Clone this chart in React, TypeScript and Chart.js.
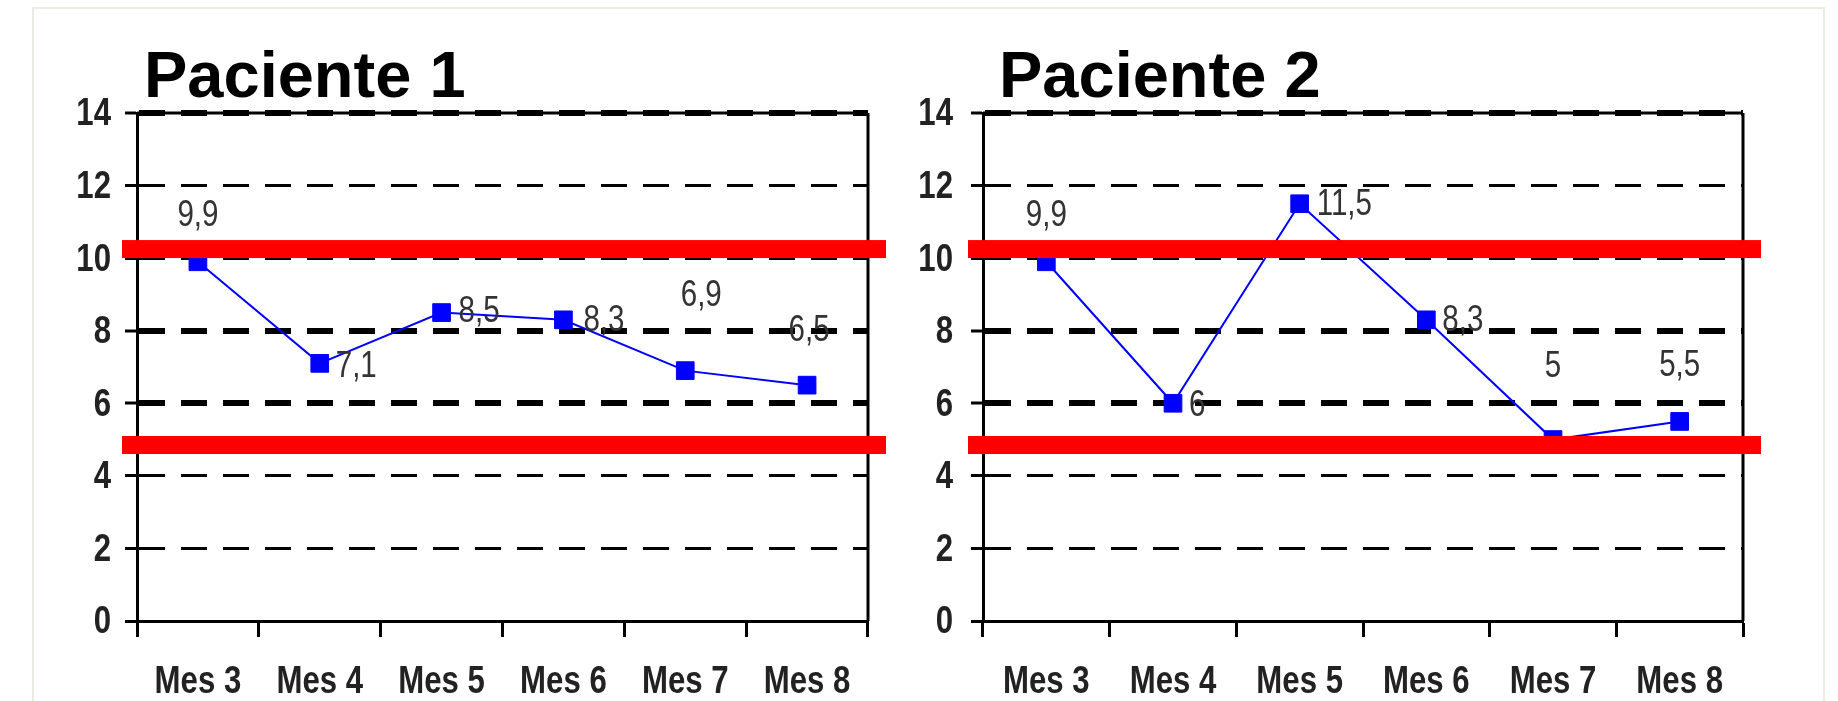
import React, { useEffect, useRef } from 'react';
import { Chart, registerables } from 'chart.js';

Chart.register(...registerables);

// ---------- data ----------
const MONTHS = ['Mes 3', 'Mes 4', 'Mes 5', 'Mes 6', 'Mes 7', 'Mes 8'];
const PACIENTE_1 = [9.9, 7.1, 8.5, 8.3, 6.9, 6.5];
const PACIENTE_2 = [9.9, 6, 11.5, 8.3, 5, 5.5];
const TITLES = ['Paciente 1', 'Paciente 2'];
const LIMITS = [10.25, 4.85];
const Y_MIN = 0;
const Y_MAX = 14;
const Y_STEP = 2;

// ---------- styling / placement ----------
type Placement = { align: CanvasTextAlign; dx: number; dy: number };
const LABELS_1: Placement[] = [
  { align: 'center', dx: 0, dy: -46 },
  { align: 'left', dx: 16, dy: 4 },
  { align: 'left', dx: 17, dy: 0 },
  { align: 'left', dx: 20, dy: 1 },
  { align: 'center', dx: 16, dy: -75 },
  { align: 'center', dx: 2, dy: -54 },
];
const LABELS_2: Placement[] = [
  { align: 'center', dx: 0, dy: -46 },
  { align: 'left', dx: 16, dy: 3 },
  { align: 'left', dx: 17, dy: 1 },
  { align: 'left', dx: 16, dy: 1 },
  { align: 'center', dx: 0, dy: -72 },
  { align: 'center', dx: 0, dy: -55 },
];

const WIDE = "'Liberation Sans', Arial, sans-serif";
const SQUEEZE = 0.82; // narrow (condensed) face look
const BLUE = '#0000FF';
const RED = '#FF0000';
const THICK_GRID = [14, 8, 6];

const fmt = (v: number) => String(v).replace('.', ',');

type PanelProps = {
  title: string;
  values: number[];
  placements: Placement[];
  left: number;
  width: number;
  axisWidth: number;
  padRight: number;
  titleOffset: number;
  yLabelGap: number;
};

function drawSqueezed(ctx: CanvasRenderingContext2D, text: string, x: number, y: number) {
  const w = ctx.measureText(text).width;
  ctx.fillText(text, x, y, w * SQUEEZE);
}

function Panel({ title, values, placements, left, width, axisWidth, padRight, titleOffset, yLabelGap }: PanelProps) {
  const ref = useRef<HTMLCanvasElement>(null);

  useEffect(() => {
    const canvas = ref.current;
    if (!canvas) return;

    const framePlugin = {
      id: 'frame',
      beforeDatasetsDraw(chart: any) {
        const { ctx, chartArea } = chart;
        ctx.save();
        ctx.strokeStyle = '#000';
        ctx.lineWidth = 3;
        ctx.beginPath();
        ctx.moveTo(chartArea.left, chartArea.top);
        ctx.lineTo(chartArea.right, chartArea.top);
        ctx.moveTo(chartArea.right, chartArea.top);
        ctx.lineTo(chartArea.right, chartArea.bottom);
        ctx.stroke();
        ctx.restore();
      },
    };

    const limitsPlugin = {
      id: 'limits',
      afterDatasetsDraw(chart: any) {
        const { ctx, chartArea, scales } = chart;
        ctx.save();
        ctx.fillStyle = RED;
        LIMITS.forEach((v) => {
          const y = scales.y.getPixelForValue(v);
          ctx.fillRect(chartArea.left - 15, y - 9, chartArea.right - chartArea.left + 33, 18);
        });
        ctx.restore();
      },
    };

    const tickLabelsPlugin = {
      id: 'tickLabels',
      afterDraw(chart: any) {
        const { ctx, chartArea, scales } = chart;
        const xs = scales.x;
        const ys = scales.y;
        ctx.save();
        ctx.font = `bold 38px ${WIDE}`;
        ctx.fillStyle = '#222';
        ctx.textBaseline = 'middle';
        ctx.textAlign = 'right';
        ys.ticks.forEach((t: any, i: number) => {
          const label = t.label != null ? String(t.label) : String(t.value);
          drawSqueezed(ctx, label, chartArea.left - yLabelGap, ys.getPixelForTick(i) + 2);
        });
        ctx.textAlign = 'center';
        xs.ticks.forEach((t: any, i: number) => {
          const label = String(xs.getLabelForValue(t.value));
          drawSqueezed(ctx, label, xs.getPixelForTick(i), chartArea.bottom + 62);
        });
        ctx.restore();
      },
    };

    const labelsPlugin = {
      id: 'pointLabels',
      afterDraw(chart: any) {
        const { ctx } = chart;
        const meta = chart.getDatasetMeta(0);
        ctx.save();
        ctx.font = `36px ${WIDE}`;
        ctx.fillStyle = '#333';
        ctx.textBaseline = 'middle';
        meta.data.forEach((pt: any, i: number) => {
          const p = placements[i];
          ctx.textAlign = p.align;
          drawSqueezed(ctx, fmt(values[i]), pt.x + p.dx, pt.y + p.dy);
        });
        ctx.restore();
      },
    };

    const titlePlugin = {
      id: 'panelTitle',
      afterDraw(chart: any) {
        const { ctx, chartArea } = chart;
        ctx.save();
        ctx.font = `bold 65px ${WIDE}`;
        ctx.fillStyle = '#000';
        ctx.textAlign = 'left';
        ctx.textBaseline = 'alphabetic';
        ctx.fillText(title, chartArea.left + titleOffset, chartArea.top - 16);
        ctx.restore();
      },
    };

    const chart = new Chart(canvas, {
      type: 'line',
      data: {
        labels: MONTHS,
        datasets: [
          {
            data: values,
            borderColor: BLUE,
            backgroundColor: BLUE,
            borderWidth: 2,
            pointStyle: 'rect',
            pointRadius: 12.5,
            pointHoverRadius: 12.5,
            pointBackgroundColor: BLUE,
            pointBorderColor: BLUE,
            pointBorderWidth: 1,
            tension: 0,
            fill: false,
          },
        ],
      },
      options: {
        responsive: false,
        animation: false,
        events: [],
        layout: { padding: { left: 0, right: padRight, top: 113, bottom: 0 } },
        plugins: {
          legend: { display: false },
          tooltip: { enabled: false },
          title: { display: false },
        },
        scales: {
          x: {
            type: 'category',
            offset: true,
            grid: {
              offset: true,
              drawOnChartArea: false,
              drawTicks: true,
              tickLength: 16,
              tickWidth: 3,
              tickColor: '#000',
            },
            border: { display: true, color: '#000', width: 3 },
            ticks: { display: false, autoSkip: false, maxRotation: 0 },
            afterFit: (s: any) => {
              s.height = 80;
            },
          },
          y: {
            min: Y_MIN,
            max: Y_MAX,
            ticks: { display: false, stepSize: Y_STEP },
            grid: {
              color: '#000',
              lineWidth: (c: any) => (c.tick && THICK_GRID.includes(c.tick.value) ? 6 : 3),
              drawTicks: true,
              tickLength: 12,
              tickWidth: 3,
              tickColor: '#000',
            },
            border: { display: true, color: '#000', width: 3, dash: [26, 16] },
            afterFit: (s: any) => {
              s.width = axisWidth;
            },
          },
        },
      } as any,
      plugins: [framePlugin, limitsPlugin, tickLabelsPlugin, labelsPlugin, titlePlugin],
    });

    return () => chart.destroy();
  }, []);

  return (
    <canvas
      ref={ref}
      width={width}
      height={701}
      style={{ position: 'absolute', left, top: 0, width, height: 701, display: 'block' }}
    />
  );
}

export default function App() {
  return (
    <div
      style={{
        position: 'absolute',
        left: 0,
        top: 0,
        width: 1838,
        height: 701,
        overflow: 'hidden',
        background: '#fff',
      }}
    >
      <div
        style={{
          position: 'absolute',
          left: 32,
          top: 7,
          width: 1793,
          height: 760,
          border: '2px solid #ECEBE3',
          boxSizing: 'border-box',
        }}
      />
      <Panel
        title={TITLES[0]}
        values={PACIENTE_1}
        placements={LABELS_1}
        left={0}
        width={918}
        axisWidth={137}
        padRight={50}
        titleOffset={7}
        yLabelGap={26}
      />
      <Panel
        title={TITLES[1]}
        values={PACIENTE_2}
        placements={LABELS_2}
        left={880}
        width={958}
        axisWidth={103}
        padRight={95}
        titleOffset={16}
        yLabelGap={30}
      />
    </div>
  );
}
